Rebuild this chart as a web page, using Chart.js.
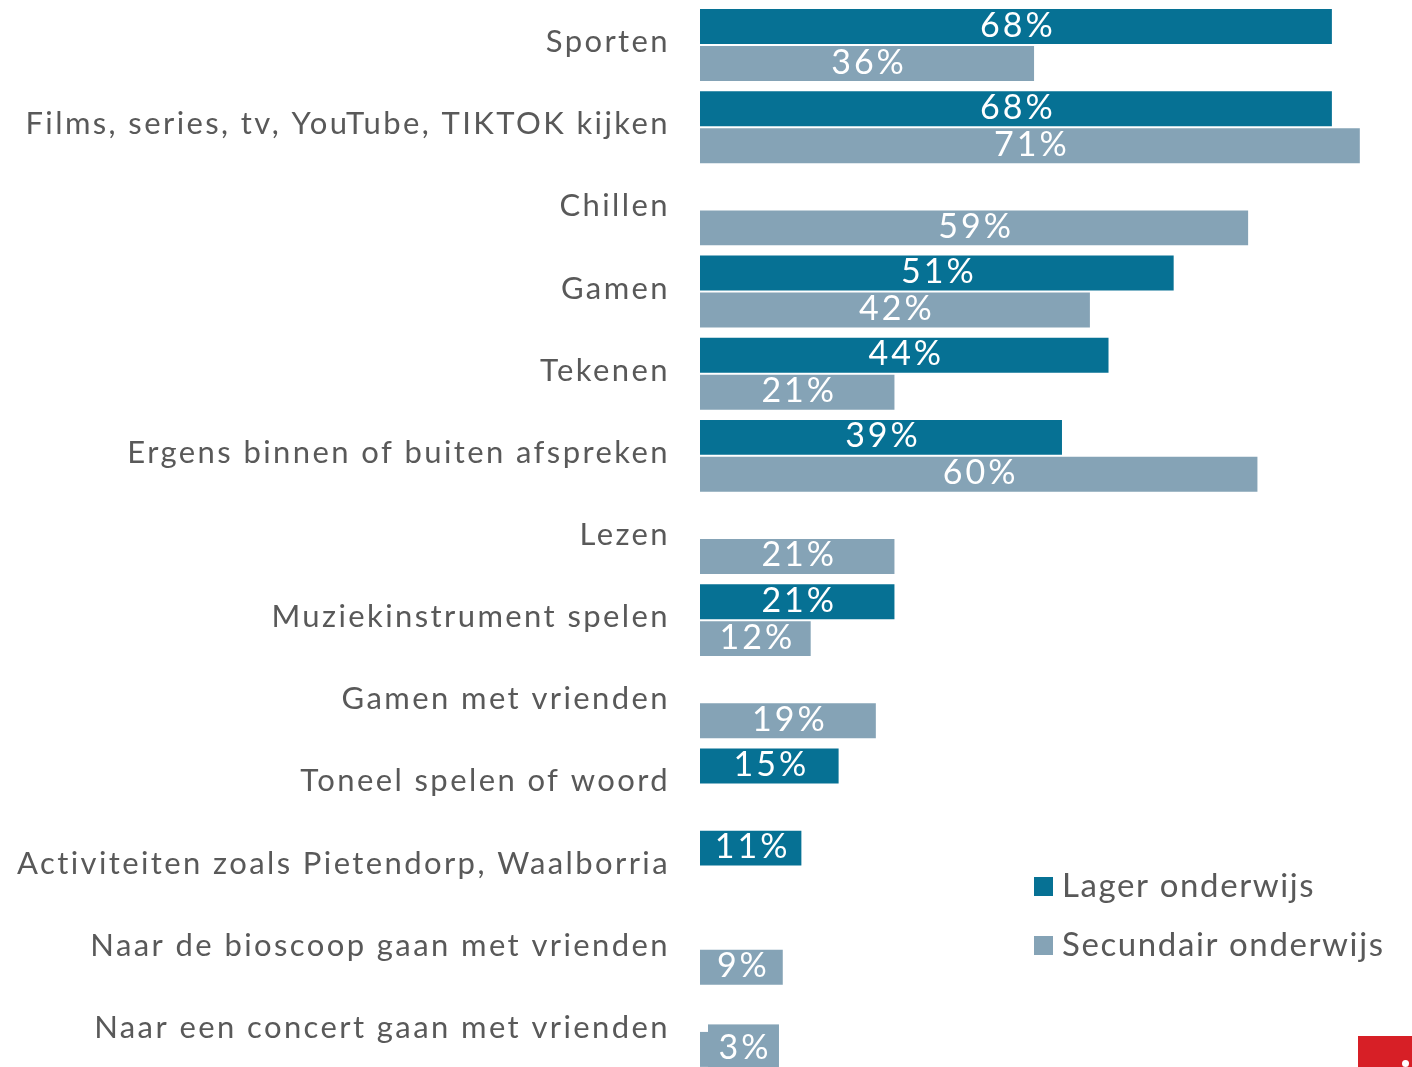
<!DOCTYPE html>
<html>
<head>
<meta charset="utf-8">
<script src="https://cdn.jsdelivr.net/npm/chart.js@4"></script>
<style>
  html, body { margin: 0; padding: 0; background: #ffffff; overflow: hidden; }
  #wrap { position: absolute; left: 0; top: 0; width: 1412px; height: 1076px; }
  #mark { position: absolute; left: 1358px; top: 1036px; width: 54px; height: 31px; background: #D71F26; }
  #mark span { position: absolute; left: 44px; top: 24px; width: 7px; height: 7px; border-radius: 50%; background: #fff; }
</style>
</head>
<body>
<div id="wrap"><canvas id="c"></canvas></div>
<div id="mark"><span></span></div>
<script>
const categories = [
  'Sporten',
  'Films, series, tv, YouTube, TIKTOK kijken',
  'Chillen',
  'Gamen',
  'Tekenen',
  'Ergens binnen of buiten afspreken',
  'Lezen',
  'Muziekinstrument spelen',
  'Gamen met vrienden',
  'Toneel spelen of woord',
  'Activiteiten zoals Pietendorp, Waalborria',
  'Naar de bioscoop gaan met vrienden',
  'Naar een concert gaan met vrienden'
];
const seriesNames = ['Lager onderwijs', 'Secundair onderwijs'];
const lagerValues = [68, 68, null, 51, 44, 39, null, 21, null, 15, 11, null, null];
const secundairValues = [36, 71, 59, 42, 21, 60, 21, 12, 19, null, null, 9, 3];
const seriesColors = ['#067194', '#85A3B6'];

const FONT = 'Lato';
const TEXT_COLOR = '#595959';

const labelPlugin = {
  id: 'barLabels',
  afterDatasetsDraw(chart) {
    const ctx = chart.ctx;
    ctx.save();
    ctx.font = '34px ' + FONT;
    ctx.letterSpacing = '3px';
    ctx.textAlign = 'center';
    ctx.textBaseline = 'middle';
    chart.data.datasets.forEach((ds, i) => {
      const meta = chart.getDatasetMeta(i);
      meta.data.forEach((bar, j) => {
        const v = ds.data[j];
        if (v === null || v === undefined) return;
        const p = bar.getProps(['x', 'y', 'base'], true);
        const text = v + '%';
        const w = ctx.measureText(text).width;
        let cx = (p.x + p.base) / 2;
        const barW = p.x - p.base;
        if (w + 16 > barW) {
          const boxW = w + 18;
          const left = p.base + 8;
          ctx.fillStyle = ds.backgroundColor;
          ctx.fillRect(left, p.y - 25, boxW, 46);
          cx = left + boxW / 2;
        }
        ctx.fillStyle = '#ffffff';
        ctx.fillText(text, cx + 1.5, p.y - 1);
      });
    });
    ctx.restore();
  }
};

const legendPlugin = {
  id: 'sideLegend',
  afterDraw(chart) {
    const ctx = chart.ctx;
    ctx.save();
    ctx.font = '33px ' + FONT;
    ctx.letterSpacing = '1.6px';
    ctx.textAlign = 'left';
    ctx.textBaseline = 'middle';
    const rows = [886, 945];
    chart.data.datasets.forEach((ds, i) => {
      ctx.fillStyle = ds.backgroundColor;
      ctx.fillRect(1034, rows[i] - 9, 19, 19);
      ctx.fillStyle = TEXT_COLOR;
      ctx.fillText(ds.label, 1062, rows[i]);
    });
    ctx.restore();
  }
};

const spacingPlugin = {
  id: 'spacing',
  beforeDraw(chart) { chart.ctx.letterSpacing = '2.4px'; }
};

function build() {
  new Chart(document.getElementById('c'), {
    type: 'bar',
    data: {
      labels: categories,
      datasets: [
        { label: seriesNames[0], data: lagerValues, backgroundColor: seriesColors[0],
          borderColor: 'rgba(255,255,255,0.55)', borderWidth: 1 },
        { label: seriesNames[1], data: secundairValues, backgroundColor: seriesColors[1],
          borderColor: 'rgba(255,255,255,0.55)', borderWidth: 1 }
      ]
    },
    options: {
      indexAxis: 'y',
      responsive: true,
      maintainAspectRatio: false,
      animation: false,
      layout: { padding: 0 },
      datasets: { bar: { categoryPercentage: 0.9, barPercentage: 1.0 } },
      plugins: { legend: { display: false }, tooltip: { enabled: false } },
      scales: {
        x: { display: false, min: 0, max: 76.5 },
        y: {
          grid: { display: true, drawOnChartArea: false, drawTicks: true, tickLength: 30, color: 'rgba(0,0,0,0)' },
          border: { display: false },
          ticks: {
            color: TEXT_COLOR,
            font: { family: FONT, size: 31 },
            padding: 0,
            labelOffset: -3,
            autoSkip: false
          },
          afterFit(scale) {
            scale.width = 700;
            scale.paddingTop = 4;
            scale.paddingBottom = 4;
          }
        }
      }
    },
    plugins: [spacingPlugin, labelPlugin, legendPlugin]
  });
}
document.fonts.load('31px ' + FONT).then(build, build);
</script>
</body>
</html>
